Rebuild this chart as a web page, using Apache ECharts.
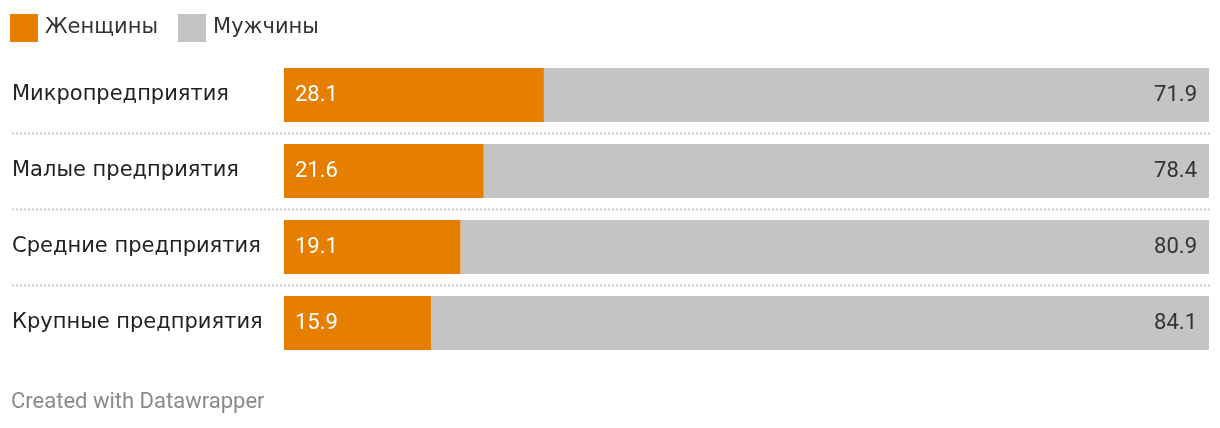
<!DOCTYPE html>
<html>
<head>
<meta charset="utf-8">
<script src="https://cdn.jsdelivr.net/npm/echarts@6/dist/echarts.min.js"></script>
<style>
  html, body { margin: 0; padding: 0; background: #fff; }
  #chart { width: 1220px; height: 428px; }
</style>
</head>
<body>
<div id="chart"></div>
<script>
// данные
const categories = ["Микропредприятия", "Малые предприятия", "Средние предприятия", "Крупные предприятия"];
const women = [28.1, 21.6, 19.1, 15.9];
const men = [71.9, 78.4, 80.9, 84.1];

const chart = echarts.init(document.getElementById("chart"));
const font = "Roboto, 'Noto Sans', sans-serif";
const cyr = "'DejaVu Sans', sans-serif";

let option = {
  animation: false,
  textStyle: { fontFamily: font },
  legend: {
    left: 10,
    top: 14,
    padding: 0,
    itemWidth: 28,
    itemHeight: 28,
    itemGap: 20,
    icon: "rect",
    textStyle: { fontSize: 21, color: "#333", fontFamily: cyr, padding: [0, 0, 0, 2] },
    data: ["Женщины", "Мужчины"]
  },
  grid: { left: 284, right: 11, top: 57, bottom: 67 },
  xAxis: { type: "value", min: 0, max: 100, show: false },
  yAxis: {
    type: "category",
    inverse: true,
    data: categories,
    axisLine: { show: false },
    axisTick: { show: false },
    splitLine: { show: false },
    axisLabel: {
      align: "left",
      margin: 272,
      fontSize: 21,
      color: "#222",
      fontFamily: cyr,
      padding: [4, 0, 0, 0]
    }
  },
  series: [
    {
      name: "Женщины",
      type: "bar",
      stack: "total",
      barWidth: 54,
      itemStyle: { color: "#e67e00" },
      label: {
        show: true,
        position: "insideLeft",
        distance: 11,
        color: "#fff",
        fontSize: 22,
        fontFamily: font,
        formatter: p => p.value.toFixed(1)
      },
      data: women
    },
    {
      name: "Мужчины",
      type: "bar",
      stack: "total",
      barWidth: 54,
      itemStyle: { color: "#c4c4c4" },
      label: {
        show: true,
        position: "insideRight",
        distance: 12,
        color: "#333",
        fontSize: 22,
        fontFamily: font,
        formatter: p => p.value.toFixed(1)
      },
      data: men
    }
  ]
};
chart.setOption(option);

// пунктирные разделители между строками
let graphics = [];
for (let i = 0; i < categories.length - 1; i++) {
  let y1 = chart.convertToPixel({ yAxisIndex: 0 }, categories[i]);
  let y2 = chart.convertToPixel({ yAxisIndex: 0 }, categories[i + 1]);
  let y = Math.round((y1 + y2) / 2) + 0.5;
  graphics.push({
    type: "line",
    shape: { x1: 12, y1: y, x2: 1210, y2: y },
    style: { stroke: "#cccccc", lineWidth: 2, lineDash: [2, 2] },
    silent: true
  });
}
graphics.push({
  type: "text",
  left: 11,
  top: 391,
  style: { text: "Created with Datawrapper", fill: "#8a8a8a", fontSize: 22, fontFamily: font }
});
chart.setOption({ graphic: graphics });

window.addEventListener("resize", function () {
  chart.resize();
});
</script>
</body>
</html>
